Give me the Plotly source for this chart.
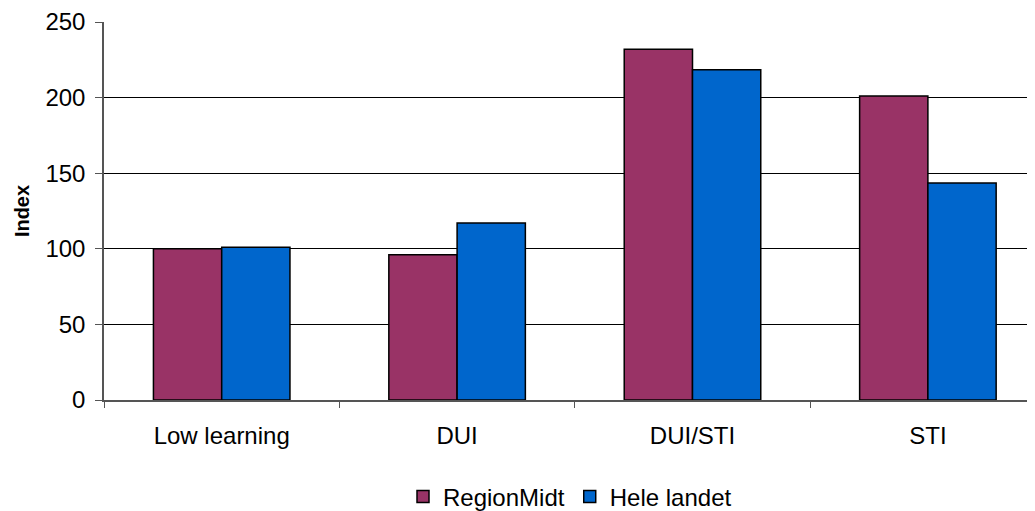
import plotly.graph_objects as go

categories = ["Low learning", "DUI", "DUI/STI", "STI"]
region_midt = [100, 96, 232, 201]
hele_landet = [101, 117, 218.5, 143.5]
y_ticks = [0, 50, 100, 150, 200, 250]

fig = go.Figure()
fig.add_trace(go.Bar(name="RegionMidt", x=categories, y=region_midt,
                     marker=dict(color="#993366", line=dict(color="#000000", width=1.5))))
fig.add_trace(go.Bar(name="Hele landet", x=categories, y=hele_landet,
                     marker=dict(color="#0066CC", line=dict(color="#000000", width=1.5))))

font = "Liberation Sans, Arial, sans-serif"
fig.update_layout(
    width=1027, height=503,
    margin=dict(l=96, r=0, t=14, b=111, autoexpand=False),
    paper_bgcolor="white", plot_bgcolor="white",
    barmode="group", bargap=0.42, bargroupgap=0,
    font=dict(family=font, size=24, color="#000000"),
    showlegend=True,
    legend=dict(orientation="h", xref="container", yref="container",
                x=562 / 1027, xanchor="center", y=1 - 489 / 503, yanchor="middle",
                font=dict(size=24), tracegroupgap=0),
    xaxis=dict(range=[-0.5, 3.455], showgrid=False, showline=True,
               linecolor="#555555", linewidth=1.5, ticks="outside",
               tickson="boundaries", ticklen=6, tickcolor="#555555",
               tickwidth=1, ticklabelstandoff=13, fixedrange=True,
               automargin=False),
    yaxis=dict(range=[0, 250], tickvals=y_ticks, showgrid=True,
               gridcolor="#000000", gridwidth=1, showline=True,
               linecolor="#555555", linewidth=1.5, ticks="outside",
               ticklen=7, tickcolor="#555555", zeroline=False,
               ticklabelstandoff=5, automargin=False,
               title=dict(text="<b>Index</b>", font=dict(size=20), standoff=10)),
)

fig.write_html("out.html")
